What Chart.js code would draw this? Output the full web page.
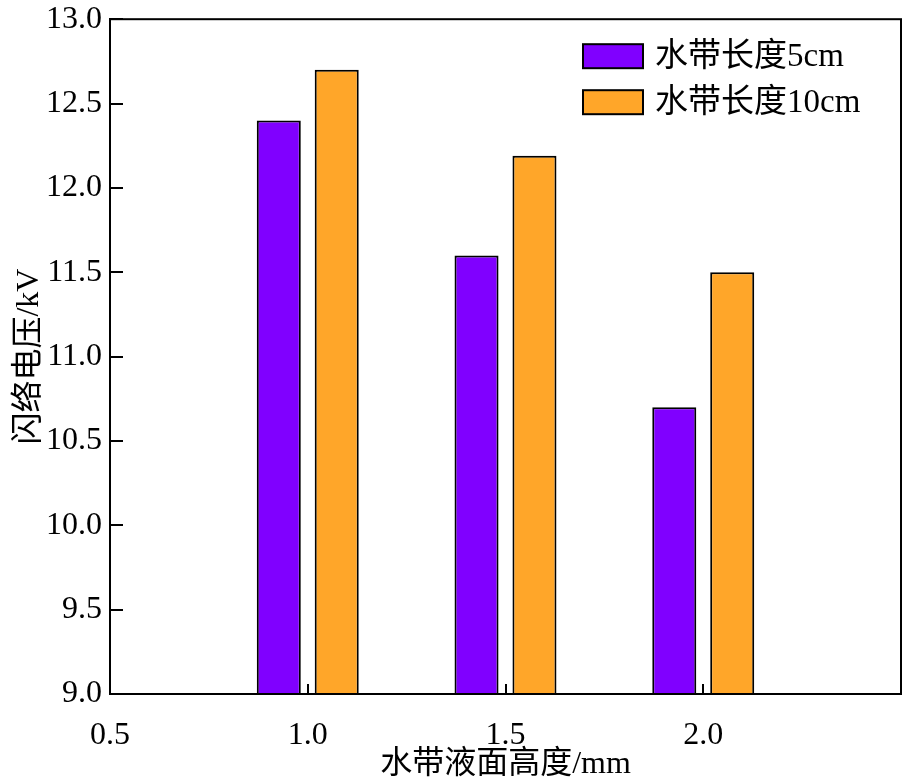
<!DOCTYPE html>
<html>
<head>
<meta charset="utf-8">
<script src="https://cdn.jsdelivr.net/npm/chart.js@4.4.1/dist/chart.umd.min.js"></script>
<style>
  html,body{margin:0;padding:0;background:#fff}
  #wrap{width:907px;height:784px;position:relative}
</style>
</head>
<body>
<div id="wrap"><canvas id="c" width="907" height="784"></canvas></div>
<script>
/* flashover voltage vs. water-band liquid height */
var HEIGHTS=[1.0,1.5,2.0];
var V_5CM=[12.4,11.6,10.7];
var V_10CM=[12.7,12.19,11.5];
var SERIES_NAMES=['水带长度5cm','水带长度10cm'];
var X_TICK_LABELS=['0.5','1.0','1.5','2.0'];

var FONT='"Liberation Serif","Noto Sans CJK SC",serif';

function pts(vals){
  return HEIGHTS.map(function(h,i){ return {x:h,y:vals[i]}; });
}

// frame, inward tick marks, legend
var framePlugin={
  id:'frame',
  afterDraw:function(chart){
    var a=chart.chartArea,ctx=chart.ctx;
    var sx=chart.scales.x,sy=chart.scales.y;
    ctx.save();
    ctx.strokeStyle='#000';ctx.lineWidth=2;
    ctx.strokeRect(a.left,a.top,a.right-a.left,a.bottom-a.top);
    sy.ticks.forEach(function(t){
      var p=Math.round(sy.getPixelForValue(t.value));
      ctx.beginPath();ctx.moveTo(a.left,p);ctx.lineTo(a.left+13,p);ctx.stroke();
    });
    sx.ticks.forEach(function(t){
      var p=Math.round(sx.getPixelForValue(t.value));
      ctx.beginPath();ctx.moveTo(p,a.bottom);ctx.lineTo(p,a.bottom-10);ctx.stroke();
    });
    // legend
    ctx.font='33px '+FONT;
    ctx.textBaseline='middle';ctx.textAlign='left';
    chart.data.datasets.forEach(function(ds,i){
      var x=a.right-318,y=a.top+25+i*46;
      ctx.fillStyle=ds.backgroundColor;
      ctx.fillRect(x,y,60,24);
      ctx.lineWidth=2;ctx.strokeStyle='#000';
      ctx.strokeRect(x,y,60,24);
      ctx.fillStyle='#000';
      ctx.fillText(ds.label,x+72,y+13);
    });
    ctx.restore();
  }
};

new Chart(document.getElementById('c'),{
  type:'bar',
  data:{
    datasets:[
      {label:SERIES_NAMES[0],data:pts(V_5CM),backgroundColor:'#8000FF',borderColor:'#000',borderWidth:2,borderSkipped:'start',base:9},
      {label:SERIES_NAMES[1],data:pts(V_10CM),backgroundColor:'#FFA629',borderColor:'#000',borderWidth:2,borderSkipped:'start',base:9}
    ]
  },
  options:{
    responsive:false,animation:false,
    categoryPercentage:0.586,barPercentage:0.76,
    layout:{padding:{top:-6,right:6,left:0,bottom:0}},
    plugins:{legend:{display:false},tooltip:{enabled:false}},
    scales:{
      x:{
        type:'linear',min:0.5,max:2.5,offset:false,
        afterBuildTicks:function(s){ s.ticks=X_TICK_LABELS.map(function(t){return {value:parseFloat(t)};}); },
        afterFit:function(s){ s.height=90; },
        ticks:{color:'#000',font:{family:FONT,size:32},padding:14,maxRotation:0,
          callback:function(v){ return v.toFixed(1); }},
        grid:{display:false,offset:false},
        border:{display:true,color:'#000',width:2},
        title:{display:true,text:'水带液面高度/mm',color:'#000',font:{family:FONT,size:32},padding:{top:8,bottom:0}}
      },
      y:{
        min:9,max:13,
        afterFit:function(s){ s.width=110; },
        ticks:{stepSize:0.5,color:'#000',font:{family:FONT,size:32},padding:0,
          callback:function(v){ return v.toFixed(1); }},
        grid:{display:false},
        border:{display:true,color:'#000',width:2},
        title:{display:true,text:'闪络电压/kV',color:'#000',font:{family:FONT,size:32},padding:{top:10,bottom:0}}
      }
    }
  },
  plugins:[framePlugin]
});
</script>
</body>
</html>
